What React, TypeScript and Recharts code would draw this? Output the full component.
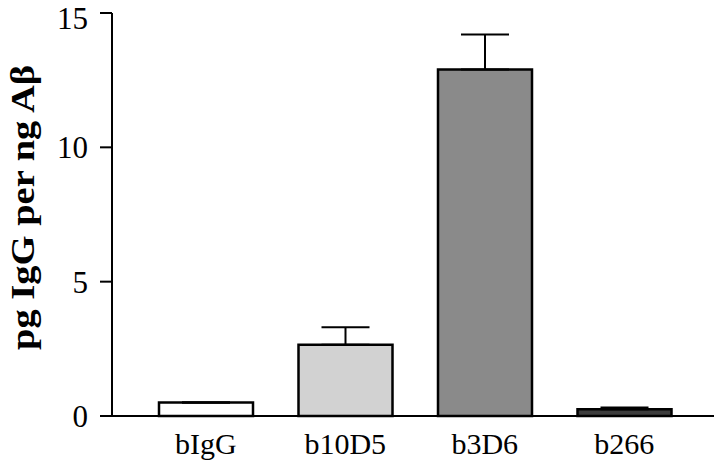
import { BarChart, Bar, XAxis, YAxis, ErrorBar, Cell, Label } from "recharts"

const antibodies = ["bIgG", "b10D5", "b3D6", "b266"]
const igg = [0.5, 2.65, 12.9, 0.25]
const errUp = [0, 0.65, 1.3, 0.07]
const fills = ["#ffffff", "#d2d2d2", "#8a8a8a", "#3c3c3c"]
const yTicks = [0, 5, 10, 15]

const data = antibodies.map((name, i) => ({
  name,
  value: igg[i],
  err: [0, errUp[i]],
}))

const serif = "'Liberation Serif', 'Times New Roman', serif"

export default function App() {
  return (
    <div style={{ position: "absolute", left: 0, top: 0, background: "#fff" }}>
      <BarChart
        width={720}
        height={468}
        data={data}
        margin={{ top: 13, right: 6, left: 0, bottom: 0 }}
      >
        <XAxis
          dataKey="name"
          height={52}
          tickLine={false}
          tickSize={0}
          tickMargin={17}
          axisLine={{ stroke: "#000", strokeWidth: 2 }}
          padding={{ left: 24, right: 20 }}
          tick={{ fill: "#000", fontSize: 30, fontFamily: serif }}
        />
        <YAxis
          width={112}
          domain={[0, 15]}
          ticks={yTicks}
          tickSize={12}
          tickMargin={12}
          axisLine={{ stroke: "#000", strokeWidth: 2 }}
          tickLine={{ stroke: "#000", strokeWidth: 2 }}
          tick={{ fill: "#000", fontSize: 31, fontFamily: serif }}
        >
          <Label
            content={({ viewBox }: any) => {
              const cx = 23
              const cy = viewBox.y + viewBox.height / 2 - 7
              return (
                <text
                  x={cx}
                  y={cy}
                  transform={`rotate(-90 ${cx} ${cy})`}
                  textAnchor="middle"
                  dominantBaseline="central"
                  fontFamily={serif}
                  fontWeight="bold"
                  fontSize={33}
                  textLength={285}
                  lengthAdjust="spacingAndGlyphs"
                  fill="#000"
                >
                  pg IgG per ng Aβ
                </text>
              )
            }}
          />
        </YAxis>
        <Bar
          dataKey="value"
          barSize={94}
          stroke="#000"
          strokeWidth={2.5}
          isAnimationActive={false}
        >
          {data.map((d, i) => (
            <Cell key={d.name} fill={fills[i]} />
          ))}
          <ErrorBar dataKey="err" width={24} stroke="#000" strokeWidth={2} />
        </Bar>
      </BarChart>
    </div>
  )
}
